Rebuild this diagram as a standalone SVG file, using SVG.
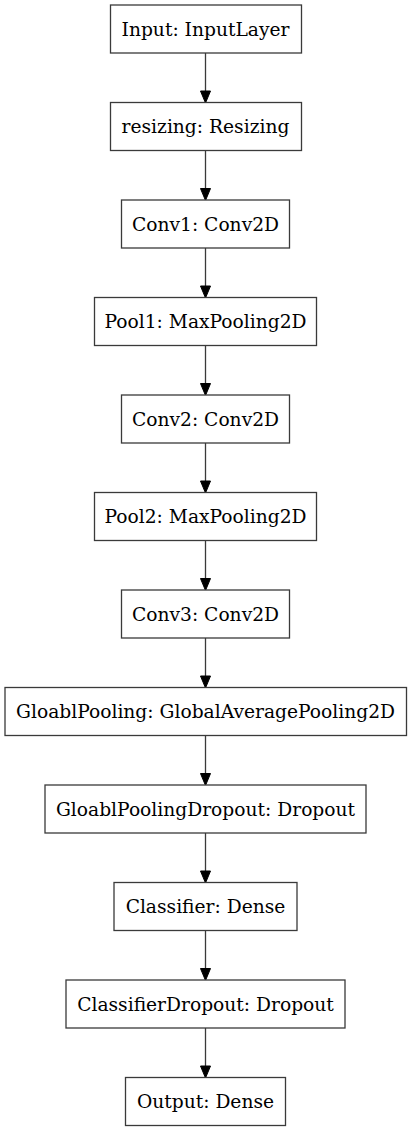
<svg xmlns="http://www.w3.org/2000/svg" width="412" height="1131" viewBox="0 0 412 1131">
<style>
.n rect{fill:#fff;stroke:#3a3a3a;stroke-width:1.3}
.n text{font-family:"DejaVu Serif",serif;font-size:18.67px;fill:#000;text-anchor:middle}
.e line{stroke:#3a3a3a;stroke-width:1.3}
.e path{fill:#000;stroke:#000;stroke-width:1}
</style>
<rect width="412" height="1131" fill="#fff"/>
<g class="e" id="edges">
<line x1="205.5" y1="53" x2="205.5" y2="91"/><path d="M200.5,91 L210.5,91 L205.5,103 Z"/>
<line x1="205.5" y1="150.5" x2="205.5" y2="188.5"/><path d="M200.5,188.5 L210.5,188.5 L205.5,200.5 Z"/>
<line x1="205.5" y1="248" x2="205.5" y2="286"/><path d="M200.5,286 L210.5,286 L205.5,298 Z"/>
<line x1="205.5" y1="345.5" x2="205.5" y2="383.5"/><path d="M200.5,383.5 L210.5,383.5 L205.5,395.5 Z"/>
<line x1="205.5" y1="443" x2="205.5" y2="481"/><path d="M200.5,481 L210.5,481 L205.5,493 Z"/>
<line x1="205.5" y1="540.5" x2="205.5" y2="578.5"/><path d="M200.5,578.5 L210.5,578.5 L205.5,590.5 Z"/>
<line x1="205.5" y1="638" x2="205.5" y2="676"/><path d="M200.5,676 L210.5,676 L205.5,688 Z"/>
<line x1="205.5" y1="735.5" x2="205.5" y2="773.5"/><path d="M200.5,773.5 L210.5,773.5 L205.5,785.5 Z"/>
<line x1="205.5" y1="833" x2="205.5" y2="871"/><path d="M200.5,871 L210.5,871 L205.5,883 Z"/>
<line x1="205.5" y1="930.5" x2="205.5" y2="968.5"/><path d="M200.5,968.5 L210.5,968.5 L205.5,980.5 Z"/>
<line x1="205.5" y1="1028" x2="205.5" y2="1066"/><path d="M200.5,1066 L210.5,1066 L205.5,1078 Z"/>
</g>
<g class="n" id="input"><rect x="110.5" y="5" width="191" height="48"/><text x="205.5" y="35.5">Input: InputLayer</text></g>
<g class="n" id="resizing"><rect x="110.5" y="102.5" width="191" height="48"/><text x="205.5" y="133">resizing: Resizing</text></g>
<g class="n" id="conv1"><rect x="121.5" y="200" width="168" height="48"/><text x="205.5" y="230.5">Conv1: Conv2D</text></g>
<g class="n" id="pool1"><rect x="94.5" y="297.5" width="222" height="48"/><text x="205.5" y="328">Pool1: MaxPooling2D</text></g>
<g class="n" id="conv2"><rect x="121.5" y="395" width="168" height="48"/><text x="205.5" y="425.5">Conv2: Conv2D</text></g>
<g class="n" id="pool2"><rect x="94.5" y="492.5" width="222" height="48"/><text x="205.5" y="523">Pool2: MaxPooling2D</text></g>
<g class="n" id="conv3"><rect x="121.5" y="590" width="168" height="48"/><text x="205.5" y="620.5">Conv3: Conv2D</text></g>
<g class="n" id="gpool"><rect x="5" y="687.5" width="401.5" height="48"/><text x="205.5" y="718">GloablPooling: GlobalAveragePooling2D</text></g>
<g class="n" id="gpdrop"><rect x="45" y="785" width="321" height="48"/><text x="205.5" y="815.5">GloablPoolingDropout: Dropout</text></g>
<g class="n" id="classifier"><rect x="114" y="882.5" width="183" height="48"/><text x="205.5" y="913">Classifier: Dense</text></g>
<g class="n" id="cdrop"><rect x="66" y="980" width="279" height="48"/><text x="205.5" y="1010.5">ClassifierDropout: Dropout</text></g>
<g class="n" id="output"><rect x="125.5" y="1077.5" width="160" height="48"/><text x="205.5" y="1108">Output: Dense</text></g>
</svg>
